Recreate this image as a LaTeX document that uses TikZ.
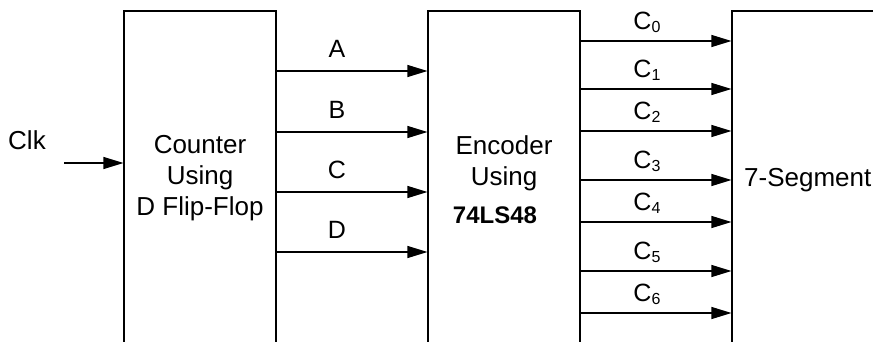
\documentclass[tikz,border=0pt]{standalone}
\usepackage{fontspec}
\setmainfont{Liberation Sans}
\usetikzlibrary{arrows.meta, positioning}
\tikzset{
    blk/.style={
        rectangle, draw=black, line width=1.1pt, inner sep=0pt,
        minimum width=152pt, minimum height=360pt
    },
    sig/.style={
        -{Triangle[length=20pt, width=12pt]}, draw=black, line width=1.1pt
    },
    txt/.style={
        font=\fontsize{26}{31}\selectfont, inner sep=0pt, align=center
    },
    codetxt/.style={
        font=\fontsize{24}{28}\selectfont\bfseries, inner sep=0pt
    },
    lbl/.style={
        font=\fontsize{25}{28}\selectfont, inner sep=0pt
    }
}
\newcommand{\outsig}[1]{C\raisebox{-3pt}{\fontsize{16}{16}\selectfont #1}}

\begin{document}
\begin{tikzpicture}[x=1pt, y=-1pt]

    \useasboundingbox (0,0) rectangle (873,342);
    \clip (0,0) rectangle (873,342);

    % blocks (open at the bottom)
    \node[blk] (cnt) at (200,191) {};
    \node[blk] (enc) at (504,191) {};
    \node[blk, minimum width=300pt] (seg) at (882,191) {};

    \node[txt] (cnt_txt) at (200,178) {Counter\\Using\\D Flip-Flop};
    \node[txt] (enc_txt) at (504,163) {Encoder\\Using};
    \node[codetxt] (enc_code) at (495,215) {74LS48};
    \node[txt, anchor=west] (seg_txt) at (744,180) {7-Segment};

    % clock input
    \node[txt] (clk) at (27,140) {Clk};
    \coordinate (clk_in) at (64,163);
    \draw[sig] (clk_in) -- (clk_in -| cnt.west);

    % counter outputs
    \draw[sig] (cnt.east |- 0,71) -- (enc.west |- 0,71) node[lbl, pos=0.4, above=13pt] (sa) {A};
    \draw[sig] (cnt.east |- 0,132) -- (enc.west |- 0,132) node[lbl, pos=0.4, above=13pt] (sb) {B};
    \draw[sig] (cnt.east |- 0,192) -- (enc.west |- 0,192) node[lbl, pos=0.4, above=13pt] (sc) {C};
    \draw[sig] (cnt.east |- 0,252) -- (enc.west |- 0,252) node[lbl, pos=0.4, above=13pt] (sd) {D};

    % encoder outputs
    \draw[sig] (enc.east |- 0,41) -- (seg.west |- 0,41) node[lbl, pos=0.44, above=8pt] (c0) {\outsig{0}};
    \draw[sig] (enc.east |- 0,89) -- (seg.west |- 0,89) node[lbl, pos=0.44, above=8pt] (c1) {\outsig{1}};
    \draw[sig] (enc.east |- 0,131) -- (seg.west |- 0,131) node[lbl, pos=0.44, above=8pt] (c2) {\outsig{2}};
    \draw[sig] (enc.east |- 0,180) -- (seg.west |- 0,180) node[lbl, pos=0.44, above=8pt] (c3) {\outsig{3}};
    \draw[sig] (enc.east |- 0,222) -- (seg.west |- 0,222) node[lbl, pos=0.44, above=8pt] (c4) {\outsig{4}};
    \draw[sig] (enc.east |- 0,271) -- (seg.west |- 0,271) node[lbl, pos=0.44, above=8pt] (c5) {\outsig{5}};
    \draw[sig] (enc.east |- 0,313) -- (seg.west |- 0,313) node[lbl, pos=0.44, above=8pt] (c6) {\outsig{6}};

\end{tikzpicture}
\end{document}
